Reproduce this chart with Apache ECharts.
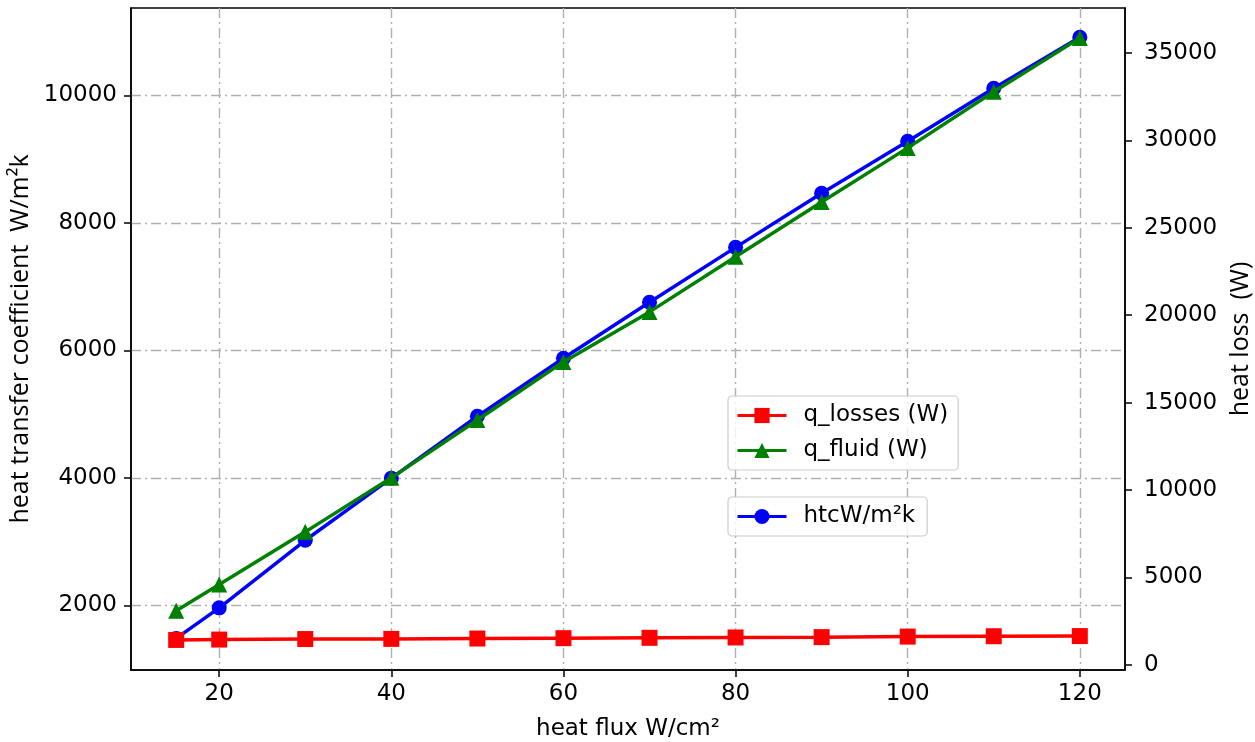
<!DOCTYPE html>
<html>
<head>
<meta charset="utf-8">
<script src="https://cdn.jsdelivr.net/npm/echarts@6/dist/echarts.min.js"></script>
<style>
html,body{margin:0;padding:0;background:#fff;}
#chart{width:1255px;height:742px;}
</style>
</head>
<body>
<div id="chart"></div>
<script>
// ---- data ----
const heatFlux = [15, 20, 30, 40, 50, 60, 70, 80, 90, 100, 110, 120];
const htc = [1480, 1960, 3020, 3995, 4965, 5875, 6755, 7615, 8465, 9280, 10110, 10910];
const qLosses = [1430, 1450, 1480, 1490, 1510, 1530, 1550, 1570, 1590, 1620, 1640, 1650];
const qFluid = [3100, 4600, 7610, 10700, 14010, 17330, 20190, 23340, 26480, 29570, 32780, 35860];
const xTicks = [20, 40, 60, 80, 100, 120];
const leftTicks = [2000, 4000, 6000, 8000, 10000];
const rightTicks = [0, 5000, 10000, 15000, 20000, 25000, 30000, 35000];

const pair = (xs, ys) => xs.map((x, i) => [x, ys[i]]);
const plain = v => String(v);

const font = 'DejaVu Sans';
const titleFont = 'Open Sans';
const gridDash = { color: '#b0b0b0', width: 1.4, type: [10, 4, 2, 4] };
const legendCommon = {
  orient: 'vertical', itemWidth: 49, itemHeight: 19,
  backgroundColor: 'rgba(255,255,255,0.8)', borderColor: '#cccccc', borderWidth: 1.2, borderRadius: 4,
  lineStyle: { width: 3 },
  textStyle: { fontFamily: font, fontSize: 23, color: '#000', padding: [0, 0, 0, 12] }
};

const chart = echarts.init(document.getElementById('chart'), null, { renderer: 'canvas' });
chart.setOption({
  animation: false,
  backgroundColor: '#fff',
  grid: {
    left: 131, right: 130, top: 8, bottom: 72,
    outerBoundsMode: 'none', containLabel: false,
    show: true, borderColor: '#000', borderWidth: 1.5, backgroundColor: 'transparent'
  },
  xAxis: {
    type: 'value', min: 9.75, max: 125.25,
    name: 'heat flux W/cm²', nameLocation: 'middle', nameGap: 48,
    nameTextStyle: { fontFamily: font, fontSize: 23, color: '#000' },
    axisLine: { show: true, onZero: false, lineStyle: { color: '#000', width: 1.5 } },
    axisTick: { show: true, length: 7, lineStyle: { color: '#000', width: 1.5 }, customValues: xTicks },
    axisLabel: { fontFamily: font, fontSize: 23, color: '#000', margin: 13, customValues: xTicks, formatter: plain },
    splitLine: { show: true, lineStyle: gridDash }
  },
  yAxis: [
    {
      type: 'value', position: 'left', min: 985, max: 11370,
      name: 'heat transfer coefficient  W/m²k', nameLocation: 'middle', nameGap: 97, nameRotate: 90,
      nameTextStyle: { fontFamily: titleFont, fontSize: 25, color: '#000' },
      axisLine: { show: true, onZero: false, lineStyle: { color: '#000', width: 1.5 } },
      axisTick: { show: true, length: 7, lineStyle: { color: '#000', width: 1.5 }, customValues: leftTicks },
      axisLabel: { fontFamily: font, fontSize: 23, color: '#000', margin: 14, customValues: leftTicks, formatter: plain },
      splitLine: { show: true, lineStyle: gridDash }
    },
    {
      type: 'value', position: 'right', min: -290, max: 37570,
      name: 'heat loss  (W)', nameLocation: 'middle', nameGap: 92, nameRotate: 90,
      nameTextStyle: { fontFamily: titleFont, fontSize: 25, color: '#000' },
      axisLine: { show: true, onZero: false, lineStyle: { color: '#000', width: 1.5 } },
      axisTick: { show: true, length: 7, lineStyle: { color: '#000', width: 1.5 }, customValues: rightTicks },
      axisLabel: { fontFamily: font, fontSize: 23, color: '#000', margin: 19, customValues: rightTicks, formatter: plain },
      splitLine: { show: false }
    }
  ],
  legend: [
    Object.assign({}, legendCommon, {
      data: ['q_losses (W)', 'q_fluid (W)'],
      left: 728, top: 396, padding: [8, 10, 8, 8], itemGap: 12
    }),
    Object.assign({}, legendCommon, {
      data: ['htcW/m²k'],
      left: 728, top: 497, padding: [8, 12, 8, 8]
    })
  ],
  series: [
    {
      name: 'htcW/m²k', type: 'line', yAxisIndex: 0, z: 2,
      data: pair(heatFlux, htc),
      symbol: 'circle', symbolSize: 15, showAllSymbol: true,
      lineStyle: { color: '#0000ff', width: 3.5 },
      itemStyle: { color: '#0000ff' }
    },
    {
      name: 'q_losses (W)', type: 'line', yAxisIndex: 1, z: 3,
      data: pair(heatFlux, qLosses),
      symbol: 'rect', symbolSize: 16, showAllSymbol: true,
      lineStyle: { color: '#ff0000', width: 3.5 },
      itemStyle: { color: '#ff0000' }
    },
    {
      name: 'q_fluid (W)', type: 'line', yAxisIndex: 1, z: 4,
      data: pair(heatFlux, qFluid),
      symbol: 'triangle', symbolSize: 16, showAllSymbol: true,
      lineStyle: { color: '#008000', width: 3.5 },
      itemStyle: { color: '#008000' }
    }
  ]
});
</script>
</body>
</html>
